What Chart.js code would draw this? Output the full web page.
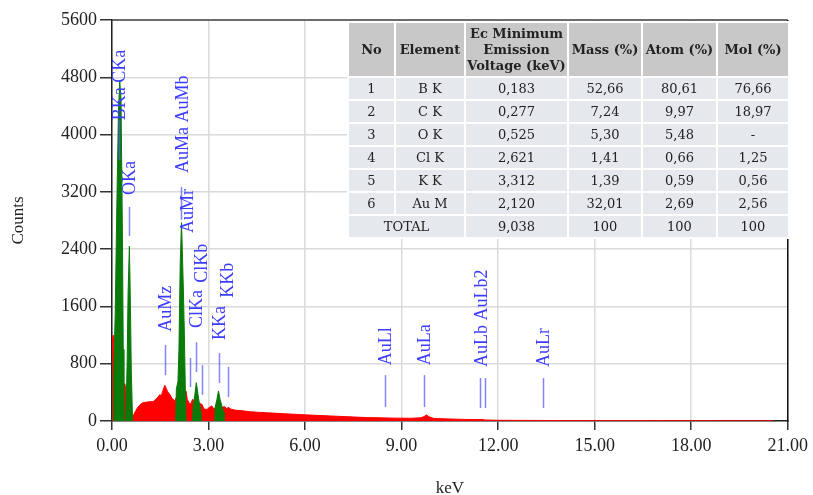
<!DOCTYPE html>
<html>
<head>
<meta charset="utf-8">
<script src="https://cdn.jsdelivr.net/npm/chart.js@4.4.1/dist/chart.umd.min.js"></script>
<style>
  html, body { margin: 0; padding: 0; background: #fff; }
  #wrap { position: relative; width: 813px; height: 495px; }
  #quant {
    position: absolute; left: 347px; top: 21px; width: 441px;
    border-collapse: collapse; table-layout: fixed;
    font-family: "DejaVu Serif", "Liberation Serif", serif; font-size: 13px; color: #222;
  }
  #quant th, #quant td { border: 2px solid #fff; text-align: center; padding: 0; white-space: nowrap; }
  #quant th { background: #c8c8c8; font-weight: bold; height: 53px; line-height: 16px; }
  #quant td { background: #e5e8ec; height: 21px; line-height: 21px; }
</style>
</head>
<body>
<div id="wrap">
  <canvas id="eds" width="813" height="495"></canvas>
  <table id="quant"></table>
</div>
<script>
// spectrum (keV, counts)
const spectrumKeV = [0, 0.01, 0.04, 0.07, 0.1, 0.2, 0.35, 0.38, 0.4, 0.42, 0.45, 0.55, 0.62, 0.66, 0.72, 0.8, 0.9, 0.97, 1.05, 1.15, 1.28, 1.35, 1.42, 1.49, 1.53, 1.58, 1.64, 1.68, 1.73, 1.8, 1.86, 1.95, 2.0, 2.3, 2.34, 2.39, 2.44, 2.5, 2.8, 2.85, 2.95, 3.05, 3.1, 3.17, 3.5, 3.56, 3.62, 3.7, 3.85, 4.0, 4.28, 4.6, 5.0, 5.4, 5.83, 6.3, 6.8, 7.4, 7.9, 8.3, 8.8, 9.3, 9.6, 9.7, 9.77, 9.85, 10.0, 10.5, 11.0, 11.5, 11.6, 12.0, 13.0, 14.0, 15.0, 17.0, 19.0, 20.5, 20.55];
const spectrumCounts = [0, 1150, 1200, 900, 600, 500, 500, 520, 510, 480, 300, 200, 80, 70, 130, 190, 240, 257, 262, 268, 270, 300, 330, 370, 350, 420, 500, 460, 410, 370, 320, 280, 330, 420, 300, 260, 230, 300, 230, 170, 160, 200, 210, 170, 200, 175, 190, 165, 150, 145, 130, 120, 110, 100, 90, 80, 70, 58, 48, 45, 40, 38, 45, 62, 85, 60, 36, 28, 22, 20, 15, 10, 8, 6, 5, 4, 3, 2, 0];

// fitted element peaks (green)
const peakBC = [[0.04, 0], [0.05, 600], [0.1, 1500], [0.15, 3000], [0.2, 4300], [0.24, 4750], [0.28, 4500], [0.32, 2800], [0.35, 1000], [0.37, 0]];
const peakO = [[0.43, 0], [0.47, 800], [0.5, 1800], [0.54, 2440], [0.57, 1700], [0.6, 700], [0.64, 0]];
const peakAuM = [[1.98, 0], [2.0, 450], [2.05, 550], [2.08, 1000], [2.12, 2200], [2.16, 2770], [2.19, 2300], [2.22, 1800], [2.25, 1200], [2.28, 400], [2.3, 0]];
const peakCl = [[2.5, 0], [2.52, 200], [2.57, 350], [2.62, 535], [2.67, 380], [2.72, 230], [2.76, 150], [2.78, 0]];
const peakK = [[3.17, 0], [3.2, 180], [3.26, 300], [3.31, 420], [3.36, 300], [3.42, 200], [3.47, 120], [3.48, 0]];

// line markers: energy and [bottom, top] in counts
const markerKeV = [0.22, 0.525, 1.66, 2.14, 2.41, 2.62, 2.81, 3.31, 3.59, 8.49, 9.71, 11.44, 11.58, 13.38];
const markerSpan = [[3645, 4200], [2585, 2990], [640, 1060], [2810, 3270], [475, 880], [685, 1100], [365, 780], [530, 950], [335, 755], [195, 640], [195, 640], [180, 600], [180, 600], [180, 600]];
const labelText = ["BKa CKa", "OKa", "AuMa AuMb", "AuMr", "AuMz", "ClKa", "ClKb", "KKa", "KKb", "AuLl", "AuLa", "AuLb AuLb2", "AuLr"];
const labelKeV = [0.25, 0.56, 2.2, 2.37, 1.7, 2.64, 2.82, 3.35, 3.6, 8.53, 9.74, 11.51, 13.43];
const labelBase = [4200, 3155, 3465, 2625, 1245, 1300, 1930, 1130, 1720, 780, 780, 755, 755];

const yTicks = [0, 800, 1600, 2400, 3200, 4000, 4800, 5600];

// quantification table
const tableHead = ["No", "Element", "Ec Minimum<br>Emission<br>Voltage (keV)", "Mass (%)", "Atom (%)", "Mol (%)"];
const rowNo = ["1", "2", "3", "4", "5", "6"];
const rowElement = ["B K", "C K", "O K", "Cl K", "K K", "Au M"];
const rowVoltage = ["0,183", "0,277", "0,525", "2,621", "3,312", "2,120"];
const rowMass = ["52,66", "7,24", "5,30", "1,41", "1,39", "32,01"];
const rowAtom = ["80,61", "9,97", "5,48", "0,66", "0,59", "2,69"];
const rowMol = ["76,66", "18,97", "-", "1,25", "0,56", "2,56"];
const totalRow = ["TOTAL", "9,038", "100", "100", "100"];

function buildTable() {
  const widths = [47, 70, 103, 74, 75, 72];
  let html = "<colgroup>" + widths.map((w) => `<col style="width:${w}px">`).join("") + "</colgroup>";
  html += "<tr>" + tableHead.map((h) => `<th>${h}</th>`).join("") + "</tr>";
  rowNo.forEach((no, i) => {
    html += `<tr><td>${no}</td><td>${rowElement[i]}</td><td>${rowVoltage[i]}</td><td>${rowMass[i]}</td><td>${rowAtom[i]}</td><td>${rowMol[i]}</td></tr>`;
  });
  html += `<tr><td colspan="2">${totalRow[0]}</td>` + totalRow.slice(1).map((v) => `<td>${v}</td>`).join("") + "</tr>";
  document.getElementById("quant").innerHTML = html;
}

const toPoints = (pairs) => pairs.map(([x, y]) => ({ x, y }));
const greenSet = (pairs) => ({
  data: toPoints(pairs),
  borderColor: "#0a7a0a",
  backgroundColor: "#0a7a0a",
  borderWidth: 1,
  fill: "origin",
  pointRadius: 0,
  tension: 0,
  order: 1,
});

const framePlugin = {
  id: "frame",
  afterDatasetsDraw(chart) {
    const { ctx, chartArea: a, scales } = chart;
    ctx.save();
    // marker lines
    ctx.strokeStyle = "rgba(90, 90, 255, 0.75)";
    ctx.lineWidth = 1.5;
    markerKeV.forEach((e, i) => {
      const x = Math.round(scales.x.getPixelForValue(e)) + 0.5;
      ctx.beginPath();
      ctx.moveTo(x, scales.y.getPixelForValue(markerSpan[i][0]));
      ctx.lineTo(x, scales.y.getPixelForValue(markerSpan[i][1]));
      ctx.stroke();
    });
    // labels
    ctx.fillStyle = "#3c3cff";
    ctx.font = '18px "Liberation Serif", serif';
    ctx.textAlign = "left";
    ctx.textBaseline = "middle";
    labelText.forEach((t, i) => {
      ctx.save();
      ctx.translate(scales.x.getPixelForValue(labelKeV[i]), scales.y.getPixelForValue(labelBase[i]));
      ctx.rotate(-Math.PI / 2);
      ctx.fillText(t, 0, 0);
      ctx.restore();
    });
    // top / right frame
    ctx.strokeStyle = "#444";
    ctx.lineWidth = 1.5;
    ctx.beginPath();
    ctx.moveTo(a.left, a.top);
    ctx.lineTo(a.right, a.top);
    ctx.stroke();
    ctx.strokeStyle = "#111";
    ctx.beginPath();
    ctx.moveTo(a.right, a.top);
    ctx.lineTo(a.right, a.bottom + 1);
    ctx.stroke();
    ctx.restore();
  },
};

buildTable();

new Chart(document.getElementById("eds"), {
  type: "line",
  data: {
    datasets: [
      greenSet(peakBC),
      greenSet(peakO),
      greenSet(peakAuM),
      greenSet(peakCl),
      greenSet(peakK),
      {
        data: spectrumKeV.map((x, i) => ({ x, y: spectrumCounts[i] })),
        borderColor: "#ff0000",
        backgroundColor: "#ff0000",
        borderWidth: 1,
        fill: "origin",
        pointRadius: 0,
        tension: 0,
        order: 2,
      },
    ],
  },
  options: {
    responsive: false,
    animation: false,
    layout: { padding: { top: 20, right: 24, left: 0, bottom: 0 } },
    plugins: { legend: { display: false }, tooltip: { enabled: false } },
    scales: {
      x: {
        type: "linear",
        min: 0,
        max: 21,
        afterFit: (s) => { s.height = 74; },
        ticks: {
          stepSize: 3,
          callback: (v) => Number(v).toFixed(2),
          font: { family: "Liberation Serif", size: 18 },
          color: "#222",
          padding: 5,
          maxRotation: 0,
        },
        grid: { color: "#dadada", lineWidth: 1.5, tickColor: "#333", tickLength: 9 },
        border: { color: "#222", width: 1.5 },
        title: { display: true, text: "keV", font: { family: "Liberation Serif", size: 17 }, color: "#222", padding: { top: 0, bottom: -4 } },
      },
      y: {
        min: 0,
        max: 5600,
        afterFit: (s) => { s.width = 112; },
        afterBuildTicks: (s) => { s.ticks = yTicks.map((v) => ({ value: v })); },
        ticks: {
          callback: (v) => String(v),
          font: { family: "Liberation Serif", size: 18 },
          color: "#222",
          padding: 3,
        },
        grid: { color: "#dadada", lineWidth: 1.5, tickColor: "#333", tickLength: 12 },
        border: { color: "#222", width: 1.5 },
        title: { display: true, text: "Counts", font: { family: "Liberation Serif", size: 17 }, color: "#222", padding: { top: 8, bottom: 0 } },
      },
    },
  },
  plugins: [framePlugin],
});
</script>
</body>
</html>
